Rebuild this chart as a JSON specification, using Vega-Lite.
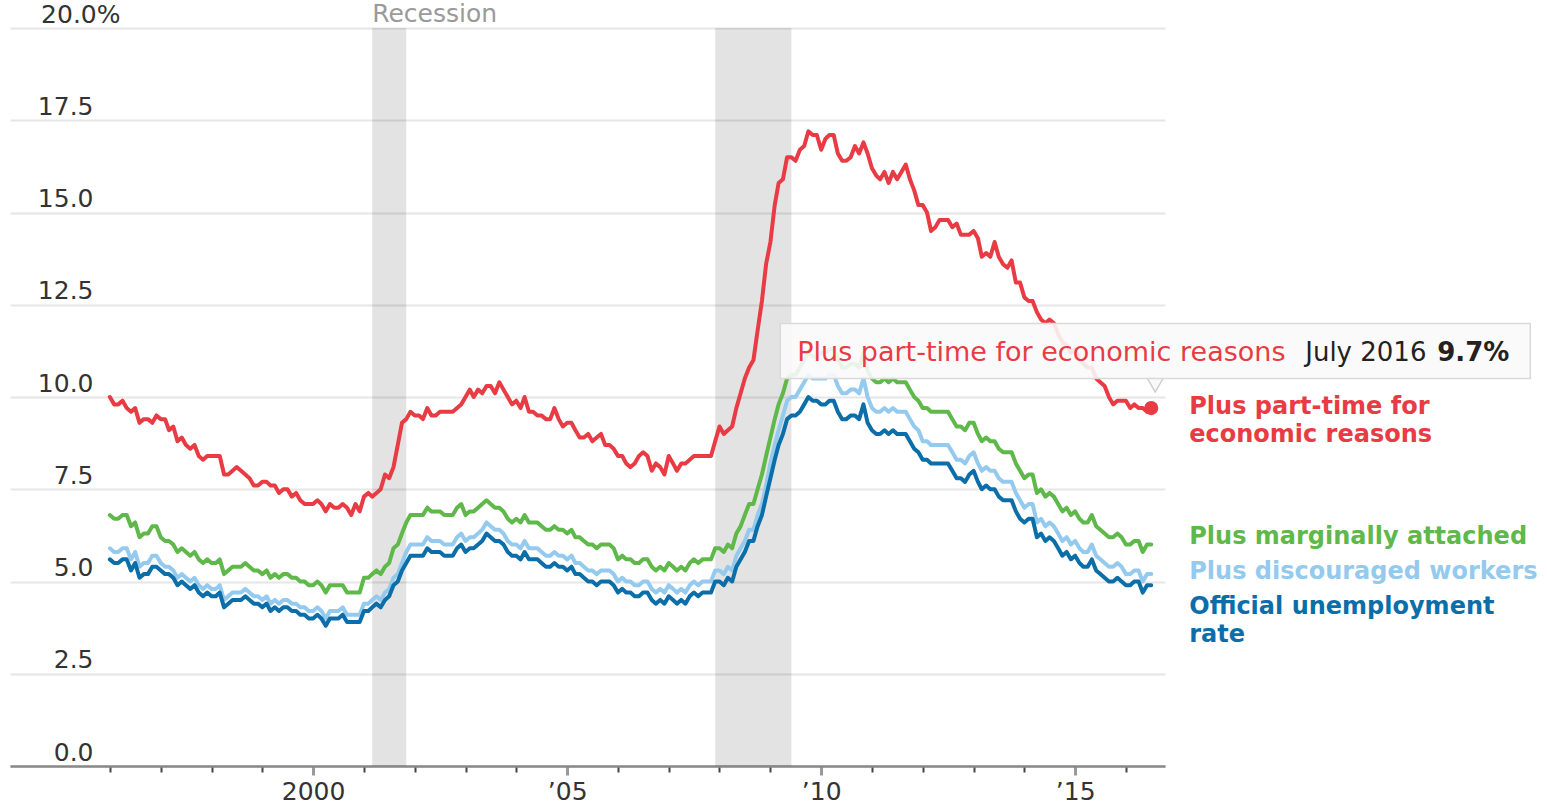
{
  "$schema": "https://vega.github.io/schema/vega-lite/v6.json",
  "width": 1155,
  "height": 738,
  "autosize": {"type": "none"},
  "padding": {"left": 10, "top": 28, "right": 382, "bottom": 38},
  "background": "white",
  "config": {"view": {"stroke": null}, "font": "DejaVu Sans", "text": {"font": "DejaVu Sans"}},
  "datasets": {
    "rates": [
      {"date":"1996-01","u3":5.6,"u4":5.9,"u5":6.8,"u6":10.0},
      {"date":"1996-02","u3":5.5,"u4":5.8,"u5":6.7,"u6":9.8},
      {"date":"1996-03","u3":5.5,"u4":5.8,"u5":6.7,"u6":9.8},
      {"date":"1996-04","u3":5.6,"u4":5.9,"u5":6.8,"u6":9.9},
      {"date":"1996-05","u3":5.6,"u4":5.9,"u5":6.8,"u6":9.7},
      {"date":"1996-06","u3":5.3,"u4":5.6,"u5":6.5,"u6":9.6},
      {"date":"1996-07","u3":5.5,"u4":5.8,"u5":6.6,"u6":9.7},
      {"date":"1996-08","u3":5.1,"u4":5.4,"u5":6.2,"u6":9.3},
      {"date":"1996-09","u3":5.2,"u4":5.5,"u5":6.3,"u6":9.4},
      {"date":"1996-10","u3":5.2,"u4":5.5,"u5":6.3,"u6":9.4},
      {"date":"1996-11","u3":5.4,"u4":5.7,"u5":6.5,"u6":9.3},
      {"date":"1996-12","u3":5.4,"u4":5.7,"u5":6.5,"u6":9.5},
      {"date":"1997-01","u3":5.3,"u4":5.5,"u5":6.2,"u6":9.4},
      {"date":"1997-02","u3":5.2,"u4":5.4,"u5":6.1,"u6":9.4},
      {"date":"1997-03","u3":5.2,"u4":5.4,"u5":6.1,"u6":9.1},
      {"date":"1997-04","u3":5.1,"u4":5.3,"u5":6.0,"u6":9.2},
      {"date":"1997-05","u3":4.9,"u4":5.1,"u5":5.8,"u6":8.8},
      {"date":"1997-06","u3":5.0,"u4":5.2,"u5":5.9,"u6":8.9},
      {"date":"1997-07","u3":4.9,"u4":5.1,"u5":5.8,"u6":8.7},
      {"date":"1997-08","u3":4.8,"u4":5.0,"u5":5.7,"u6":8.6},
      {"date":"1997-09","u3":4.9,"u4":5.1,"u5":5.8,"u6":8.7},
      {"date":"1997-10","u3":4.7,"u4":4.9,"u5":5.6,"u6":8.4},
      {"date":"1997-11","u3":4.6,"u4":4.8,"u5":5.5,"u6":8.3},
      {"date":"1997-12","u3":4.7,"u4":4.9,"u5":5.6,"u6":8.4},
      {"date":"1998-01","u3":4.6,"u4":4.8,"u5":5.5,"u6":8.4},
      {"date":"1998-02","u3":4.6,"u4":4.8,"u5":5.5,"u6":8.4},
      {"date":"1998-03","u3":4.7,"u4":4.9,"u5":5.6,"u6":8.4},
      {"date":"1998-04","u3":4.3,"u4":4.5,"u5":5.2,"u6":7.9},
      {"date":"1998-05","u3":4.4,"u4":4.6,"u5":5.3,"u6":7.9},
      {"date":"1998-06","u3":4.5,"u4":4.7,"u5":5.4,"u6":8.0},
      {"date":"1998-07","u3":4.5,"u4":4.7,"u5":5.4,"u6":8.1},
      {"date":"1998-08","u3":4.5,"u4":4.7,"u5":5.4,"u6":8.0},
      {"date":"1998-09","u3":4.6,"u4":4.8,"u5":5.5,"u6":7.9},
      {"date":"1998-10","u3":4.5,"u4":4.7,"u5":5.4,"u6":7.8},
      {"date":"1998-11","u3":4.4,"u4":4.6,"u5":5.3,"u6":7.6},
      {"date":"1998-12","u3":4.4,"u4":4.6,"u5":5.3,"u6":7.6},
      {"date":"1999-01","u3":4.3,"u4":4.5,"u5":5.2,"u6":7.7},
      {"date":"1999-02","u3":4.4,"u4":4.6,"u5":5.3,"u6":7.7},
      {"date":"1999-03","u3":4.2,"u4":4.4,"u5":5.1,"u6":7.6},
      {"date":"1999-04","u3":4.3,"u4":4.5,"u5":5.2,"u6":7.6},
      {"date":"1999-05","u3":4.2,"u4":4.4,"u5":5.1,"u6":7.4},
      {"date":"1999-06","u3":4.3,"u4":4.5,"u5":5.2,"u6":7.5},
      {"date":"1999-07","u3":4.3,"u4":4.5,"u5":5.2,"u6":7.5},
      {"date":"1999-08","u3":4.2,"u4":4.4,"u5":5.1,"u6":7.3},
      {"date":"1999-09","u3":4.2,"u4":4.4,"u5":5.1,"u6":7.4},
      {"date":"1999-10","u3":4.1,"u4":4.3,"u5":5.0,"u6":7.2},
      {"date":"1999-11","u3":4.1,"u4":4.3,"u5":5.0,"u6":7.1},
      {"date":"1999-12","u3":4.0,"u4":4.2,"u5":4.9,"u6":7.1},
      {"date":"2000-01","u3":4.0,"u4":4.2,"u5":4.9,"u6":7.1},
      {"date":"2000-02","u3":4.1,"u4":4.3,"u5":5.0,"u6":7.2},
      {"date":"2000-03","u3":4.0,"u4":4.2,"u5":4.9,"u6":7.1},
      {"date":"2000-04","u3":3.8,"u4":4.0,"u5":4.7,"u6":6.9},
      {"date":"2000-05","u3":4.0,"u4":4.2,"u5":4.9,"u6":7.1},
      {"date":"2000-06","u3":4.0,"u4":4.2,"u5":4.9,"u6":7.0},
      {"date":"2000-07","u3":4.0,"u4":4.2,"u5":4.9,"u6":7.0},
      {"date":"2000-08","u3":4.1,"u4":4.3,"u5":4.9,"u6":7.1},
      {"date":"2000-09","u3":3.9,"u4":4.1,"u5":4.7,"u6":7.0},
      {"date":"2000-10","u3":3.9,"u4":4.1,"u5":4.7,"u6":6.8},
      {"date":"2000-11","u3":3.9,"u4":4.1,"u5":4.7,"u6":7.1},
      {"date":"2000-12","u3":3.9,"u4":4.1,"u5":4.7,"u6":6.9},
      {"date":"2001-01","u3":4.2,"u4":4.4,"u5":5.1,"u6":7.3},
      {"date":"2001-02","u3":4.2,"u4":4.4,"u5":5.1,"u6":7.4},
      {"date":"2001-03","u3":4.3,"u4":4.5,"u5":5.2,"u6":7.3},
      {"date":"2001-04","u3":4.4,"u4":4.6,"u5":5.3,"u6":7.4},
      {"date":"2001-05","u3":4.3,"u4":4.5,"u5":5.2,"u6":7.5},
      {"date":"2001-06","u3":4.5,"u4":4.7,"u5":5.4,"u6":7.9},
      {"date":"2001-07","u3":4.6,"u4":4.8,"u5":5.5,"u6":7.8},
      {"date":"2001-08","u3":4.9,"u4":5.1,"u5":5.9,"u6":8.1},
      {"date":"2001-09","u3":5.0,"u4":5.2,"u5":6.0,"u6":8.7},
      {"date":"2001-10","u3":5.3,"u4":5.5,"u5":6.3,"u6":9.3},
      {"date":"2001-11","u3":5.5,"u4":5.8,"u5":6.6,"u6":9.4},
      {"date":"2001-12","u3":5.7,"u4":6.0,"u5":6.8,"u6":9.6},
      {"date":"2002-01","u3":5.7,"u4":6.0,"u5":6.8,"u6":9.5},
      {"date":"2002-02","u3":5.7,"u4":6.0,"u5":6.8,"u6":9.5},
      {"date":"2002-03","u3":5.7,"u4":6.0,"u5":6.8,"u6":9.4},
      {"date":"2002-04","u3":5.9,"u4":6.2,"u5":7.0,"u6":9.7},
      {"date":"2002-05","u3":5.8,"u4":6.1,"u5":6.9,"u6":9.5},
      {"date":"2002-06","u3":5.8,"u4":6.1,"u5":6.9,"u6":9.5},
      {"date":"2002-07","u3":5.8,"u4":6.1,"u5":6.9,"u6":9.6},
      {"date":"2002-08","u3":5.7,"u4":6.0,"u5":6.8,"u6":9.6},
      {"date":"2002-09","u3":5.7,"u4":6.0,"u5":6.8,"u6":9.6},
      {"date":"2002-10","u3":5.7,"u4":6.0,"u5":6.8,"u6":9.6},
      {"date":"2002-11","u3":5.9,"u4":6.2,"u5":7.0,"u6":9.7},
      {"date":"2002-12","u3":6.0,"u4":6.3,"u5":7.1,"u6":9.8},
      {"date":"2003-01","u3":5.8,"u4":6.1,"u5":6.8,"u6":10.0},
      {"date":"2003-02","u3":5.9,"u4":6.2,"u5":6.9,"u6":10.2},
      {"date":"2003-03","u3":5.9,"u4":6.2,"u5":6.9,"u6":10.0},
      {"date":"2003-04","u3":6.0,"u4":6.3,"u5":7.0,"u6":10.2},
      {"date":"2003-05","u3":6.1,"u4":6.4,"u5":7.1,"u6":10.1},
      {"date":"2003-06","u3":6.3,"u4":6.6,"u5":7.2,"u6":10.3},
      {"date":"2003-07","u3":6.2,"u4":6.5,"u5":7.1,"u6":10.3},
      {"date":"2003-08","u3":6.1,"u4":6.4,"u5":7.0,"u6":10.1},
      {"date":"2003-09","u3":6.1,"u4":6.4,"u5":7.0,"u6":10.4},
      {"date":"2003-10","u3":6.0,"u4":6.3,"u5":6.9,"u6":10.2},
      {"date":"2003-11","u3":5.8,"u4":6.1,"u5":6.7,"u6":10.0},
      {"date":"2003-12","u3":5.7,"u4":6.0,"u5":6.6,"u6":9.8},
      {"date":"2004-01","u3":5.7,"u4":6.0,"u5":6.7,"u6":9.9},
      {"date":"2004-02","u3":5.6,"u4":5.9,"u5":6.6,"u6":9.7},
      {"date":"2004-03","u3":5.8,"u4":6.1,"u5":6.8,"u6":10.0},
      {"date":"2004-04","u3":5.6,"u4":5.9,"u5":6.6,"u6":9.6},
      {"date":"2004-05","u3":5.6,"u4":5.9,"u5":6.6,"u6":9.6},
      {"date":"2004-06","u3":5.6,"u4":5.9,"u5":6.6,"u6":9.5},
      {"date":"2004-07","u3":5.5,"u4":5.8,"u5":6.5,"u6":9.5},
      {"date":"2004-08","u3":5.4,"u4":5.7,"u5":6.4,"u6":9.4},
      {"date":"2004-09","u3":5.4,"u4":5.7,"u5":6.4,"u6":9.4},
      {"date":"2004-10","u3":5.5,"u4":5.8,"u5":6.5,"u6":9.7},
      {"date":"2004-11","u3":5.4,"u4":5.7,"u5":6.4,"u6":9.4},
      {"date":"2004-12","u3":5.4,"u4":5.7,"u5":6.4,"u6":9.2},
      {"date":"2005-01","u3":5.3,"u4":5.6,"u5":6.3,"u6":9.3},
      {"date":"2005-02","u3":5.4,"u4":5.7,"u5":6.4,"u6":9.3},
      {"date":"2005-03","u3":5.2,"u4":5.5,"u5":6.2,"u6":9.1},
      {"date":"2005-04","u3":5.2,"u4":5.5,"u5":6.2,"u6":8.9},
      {"date":"2005-05","u3":5.1,"u4":5.4,"u5":6.1,"u6":8.9},
      {"date":"2005-06","u3":5.0,"u4":5.3,"u5":6.0,"u6":9.0},
      {"date":"2005-07","u3":5.0,"u4":5.3,"u5":6.0,"u6":8.8},
      {"date":"2005-08","u3":4.9,"u4":5.2,"u5":5.9,"u6":8.9},
      {"date":"2005-09","u3":5.0,"u4":5.3,"u5":6.0,"u6":9.0},
      {"date":"2005-10","u3":5.0,"u4":5.3,"u5":6.0,"u6":8.7},
      {"date":"2005-11","u3":5.0,"u4":5.3,"u5":6.0,"u6":8.7},
      {"date":"2005-12","u3":4.9,"u4":5.2,"u5":5.9,"u6":8.6},
      {"date":"2006-01","u3":4.7,"u4":5.0,"u5":5.6,"u6":8.4},
      {"date":"2006-02","u3":4.8,"u4":5.1,"u5":5.7,"u6":8.4},
      {"date":"2006-03","u3":4.7,"u4":5.0,"u5":5.6,"u6":8.2},
      {"date":"2006-04","u3":4.7,"u4":5.0,"u5":5.6,"u6":8.1},
      {"date":"2006-05","u3":4.6,"u4":4.9,"u5":5.5,"u6":8.2},
      {"date":"2006-06","u3":4.6,"u4":4.9,"u5":5.5,"u6":8.4},
      {"date":"2006-07","u3":4.7,"u4":5.0,"u5":5.6,"u6":8.5},
      {"date":"2006-08","u3":4.7,"u4":5.0,"u5":5.6,"u6":8.4},
      {"date":"2006-09","u3":4.5,"u4":4.8,"u5":5.4,"u6":8.0},
      {"date":"2006-10","u3":4.4,"u4":4.7,"u5":5.3,"u6":8.2},
      {"date":"2006-11","u3":4.5,"u4":4.8,"u5":5.4,"u6":8.1},
      {"date":"2006-12","u3":4.4,"u4":4.7,"u5":5.3,"u6":7.9},
      {"date":"2007-01","u3":4.6,"u4":4.9,"u5":5.5,"u6":8.4},
      {"date":"2007-02","u3":4.5,"u4":4.8,"u5":5.4,"u6":8.2},
      {"date":"2007-03","u3":4.4,"u4":4.7,"u5":5.3,"u6":8.0},
      {"date":"2007-04","u3":4.5,"u4":4.8,"u5":5.4,"u6":8.2},
      {"date":"2007-05","u3":4.4,"u4":4.7,"u5":5.3,"u6":8.2},
      {"date":"2007-06","u3":4.6,"u4":4.9,"u5":5.5,"u6":8.3},
      {"date":"2007-07","u3":4.7,"u4":5.0,"u5":5.6,"u6":8.4},
      {"date":"2007-08","u3":4.6,"u4":4.9,"u5":5.5,"u6":8.4},
      {"date":"2007-09","u3":4.7,"u4":5.0,"u5":5.6,"u6":8.4},
      {"date":"2007-10","u3":4.7,"u4":5.0,"u5":5.6,"u6":8.4},
      {"date":"2007-11","u3":4.7,"u4":5.0,"u5":5.6,"u6":8.4},
      {"date":"2007-12","u3":5.0,"u4":5.3,"u5":5.9,"u6":8.8},
      {"date":"2008-01","u3":5.0,"u4":5.3,"u5":5.9,"u6":9.2},
      {"date":"2008-02","u3":4.9,"u4":5.2,"u5":5.8,"u6":9.0},
      {"date":"2008-03","u3":5.1,"u4":5.4,"u5":6.0,"u6":9.1},
      {"date":"2008-04","u3":5.0,"u4":5.3,"u5":5.9,"u6":9.2},
      {"date":"2008-05","u3":5.4,"u4":5.7,"u5":6.3,"u6":9.7},
      {"date":"2008-06","u3":5.6,"u4":5.9,"u5":6.5,"u6":10.1},
      {"date":"2008-07","u3":5.8,"u4":6.1,"u5":6.8,"u6":10.5},
      {"date":"2008-08","u3":6.1,"u4":6.4,"u5":7.1,"u6":10.8},
      {"date":"2008-09","u3":6.1,"u4":6.4,"u5":7.1,"u6":11.0},
      {"date":"2008-10","u3":6.5,"u4":6.8,"u5":7.5,"u6":11.8},
      {"date":"2008-11","u3":6.8,"u4":7.1,"u5":7.9,"u6":12.6},
      {"date":"2008-12","u3":7.3,"u4":7.6,"u5":8.4,"u6":13.6},
      {"date":"2009-01","u3":7.8,"u4":8.2,"u5":8.9,"u6":14.2},
      {"date":"2009-02","u3":8.3,"u4":8.7,"u5":9.4,"u6":15.2},
      {"date":"2009-03","u3":8.7,"u4":9.1,"u5":9.8,"u6":15.8},
      {"date":"2009-04","u3":9.0,"u4":9.5,"u5":10.1,"u6":15.9},
      {"date":"2009-05","u3":9.4,"u4":9.9,"u5":10.5,"u6":16.5},
      {"date":"2009-06","u3":9.5,"u4":10.0,"u5":10.6,"u6":16.5},
      {"date":"2009-07","u3":9.5,"u4":10.0,"u5":10.6,"u6":16.4},
      {"date":"2009-08","u3":9.6,"u4":10.2,"u5":10.8,"u6":16.7},
      {"date":"2009-09","u3":9.8,"u4":10.4,"u5":11.0,"u6":16.8},
      {"date":"2009-10","u3":10.0,"u4":10.6,"u5":11.2,"u6":17.2},
      {"date":"2009-11","u3":9.9,"u4":10.5,"u5":11.1,"u6":17.1},
      {"date":"2009-12","u3":9.9,"u4":10.5,"u5":11.1,"u6":17.1},
      {"date":"2010-01","u3":9.8,"u4":10.5,"u5":11.2,"u6":16.7},
      {"date":"2010-02","u3":9.8,"u4":10.5,"u5":11.2,"u6":17.0},
      {"date":"2010-03","u3":9.9,"u4":10.6,"u5":11.3,"u6":17.1},
      {"date":"2010-04","u3":9.9,"u4":10.6,"u5":11.3,"u6":17.1},
      {"date":"2010-05","u3":9.6,"u4":10.3,"u5":11.0,"u6":16.6},
      {"date":"2010-06","u3":9.4,"u4":10.1,"u5":10.8,"u6":16.4},
      {"date":"2010-07","u3":9.4,"u4":10.1,"u5":10.8,"u6":16.4},
      {"date":"2010-08","u3":9.5,"u4":10.2,"u5":10.9,"u6":16.5},
      {"date":"2010-09","u3":9.5,"u4":10.2,"u5":10.9,"u6":16.8},
      {"date":"2010-10","u3":9.4,"u4":10.1,"u5":10.8,"u6":16.6},
      {"date":"2010-11","u3":9.8,"u4":10.5,"u5":11.2,"u6":16.9},
      {"date":"2010-12","u3":9.3,"u4":10.0,"u5":10.7,"u6":16.6},
      {"date":"2011-01","u3":9.1,"u4":9.7,"u5":10.5,"u6":16.2},
      {"date":"2011-02","u3":9.0,"u4":9.6,"u5":10.4,"u6":16.0},
      {"date":"2011-03","u3":9.0,"u4":9.6,"u5":10.4,"u6":15.9},
      {"date":"2011-04","u3":9.1,"u4":9.7,"u5":10.5,"u6":16.1},
      {"date":"2011-05","u3":9.0,"u4":9.6,"u5":10.4,"u6":15.8},
      {"date":"2011-06","u3":9.1,"u4":9.7,"u5":10.5,"u6":16.1},
      {"date":"2011-07","u3":9.0,"u4":9.6,"u5":10.4,"u6":15.9},
      {"date":"2011-08","u3":9.0,"u4":9.6,"u5":10.4,"u6":16.1},
      {"date":"2011-09","u3":9.0,"u4":9.6,"u5":10.4,"u6":16.3},
      {"date":"2011-10","u3":8.8,"u4":9.4,"u5":10.2,"u6":15.9},
      {"date":"2011-11","u3":8.6,"u4":9.2,"u5":10.0,"u6":15.6},
      {"date":"2011-12","u3":8.5,"u4":9.1,"u5":9.9,"u6":15.2},
      {"date":"2012-01","u3":8.3,"u4":8.8,"u5":9.7,"u6":15.2},
      {"date":"2012-02","u3":8.3,"u4":8.8,"u5":9.7,"u6":15.0},
      {"date":"2012-03","u3":8.2,"u4":8.7,"u5":9.6,"u6":14.5},
      {"date":"2012-04","u3":8.2,"u4":8.7,"u5":9.6,"u6":14.6},
      {"date":"2012-05","u3":8.2,"u4":8.7,"u5":9.6,"u6":14.8},
      {"date":"2012-06","u3":8.2,"u4":8.7,"u5":9.6,"u6":14.8},
      {"date":"2012-07","u3":8.2,"u4":8.7,"u5":9.6,"u6":14.8},
      {"date":"2012-08","u3":8.0,"u4":8.5,"u5":9.4,"u6":14.6},
      {"date":"2012-09","u3":7.8,"u4":8.3,"u5":9.2,"u6":14.7},
      {"date":"2012-10","u3":7.8,"u4":8.3,"u5":9.2,"u6":14.4},
      {"date":"2012-11","u3":7.7,"u4":8.2,"u5":9.1,"u6":14.4},
      {"date":"2012-12","u3":7.9,"u4":8.4,"u5":9.3,"u6":14.4},
      {"date":"2013-01","u3":8.0,"u4":8.5,"u5":9.3,"u6":14.5},
      {"date":"2013-02","u3":7.7,"u4":8.2,"u5":9.0,"u6":14.3},
      {"date":"2013-03","u3":7.5,"u4":8.0,"u5":8.8,"u6":13.8},
      {"date":"2013-04","u3":7.6,"u4":8.1,"u5":8.9,"u6":13.9},
      {"date":"2013-05","u3":7.5,"u4":8.0,"u5":8.8,"u6":13.8},
      {"date":"2013-06","u3":7.5,"u4":8.0,"u5":8.8,"u6":14.2},
      {"date":"2013-07","u3":7.3,"u4":7.8,"u5":8.6,"u6":13.8},
      {"date":"2013-08","u3":7.2,"u4":7.7,"u5":8.5,"u6":13.6},
      {"date":"2013-09","u3":7.2,"u4":7.7,"u5":8.5,"u6":13.5},
      {"date":"2013-10","u3":7.2,"u4":7.7,"u5":8.5,"u6":13.7},
      {"date":"2013-11","u3":6.9,"u4":7.4,"u5":8.2,"u6":13.1},
      {"date":"2013-12","u3":6.7,"u4":7.2,"u5":8.0,"u6":13.1},
      {"date":"2014-01","u3":6.6,"u4":7.0,"u5":7.8,"u6":12.7},
      {"date":"2014-02","u3":6.7,"u4":7.1,"u5":7.9,"u6":12.6},
      {"date":"2014-03","u3":6.7,"u4":7.1,"u5":7.9,"u6":12.6},
      {"date":"2014-04","u3":6.2,"u4":6.6,"u5":7.4,"u6":12.3},
      {"date":"2014-05","u3":6.3,"u4":6.7,"u5":7.5,"u6":12.1},
      {"date":"2014-06","u3":6.1,"u4":6.5,"u5":7.3,"u6":12.0},
      {"date":"2014-07","u3":6.2,"u4":6.6,"u5":7.4,"u6":12.1},
      {"date":"2014-08","u3":6.1,"u4":6.5,"u5":7.3,"u6":12.0},
      {"date":"2014-09","u3":5.9,"u4":6.3,"u5":7.1,"u6":11.7},
      {"date":"2014-10","u3":5.7,"u4":6.1,"u5":6.9,"u6":11.5},
      {"date":"2014-11","u3":5.8,"u4":6.2,"u5":7.0,"u6":11.4},
      {"date":"2014-12","u3":5.6,"u4":6.0,"u5":6.8,"u6":11.2},
      {"date":"2015-01","u3":5.7,"u4":6.1,"u5":6.9,"u6":11.3},
      {"date":"2015-02","u3":5.5,"u4":5.9,"u5":6.7,"u6":11.0},
      {"date":"2015-03","u3":5.4,"u4":5.8,"u5":6.6,"u6":10.9},
      {"date":"2015-04","u3":5.4,"u4":5.8,"u5":6.6,"u6":10.8},
      {"date":"2015-05","u3":5.6,"u4":6.0,"u5":6.8,"u6":10.8},
      {"date":"2015-06","u3":5.3,"u4":5.7,"u5":6.5,"u6":10.5},
      {"date":"2015-07","u3":5.2,"u4":5.6,"u5":6.4,"u6":10.4},
      {"date":"2015-08","u3":5.1,"u4":5.5,"u5":6.3,"u6":10.3},
      {"date":"2015-09","u3":5.0,"u4":5.4,"u5":6.2,"u6":10.0},
      {"date":"2015-10","u3":5.0,"u4":5.4,"u5":6.2,"u6":9.8},
      {"date":"2015-11","u3":5.1,"u4":5.5,"u5":6.3,"u6":9.9},
      {"date":"2015-12","u3":5.0,"u4":5.4,"u5":6.2,"u6":9.9},
      {"date":"2016-01","u3":4.9,"u4":5.2,"u5":6.0,"u6":9.9},
      {"date":"2016-02","u3":4.9,"u4":5.2,"u5":6.0,"u6":9.7},
      {"date":"2016-03","u3":5.0,"u4":5.3,"u5":6.1,"u6":9.8},
      {"date":"2016-04","u3":5.0,"u4":5.3,"u5":6.1,"u6":9.7},
      {"date":"2016-05","u3":4.7,"u4":5.0,"u5":5.8,"u6":9.7},
      {"date":"2016-06","u3":4.9,"u4":5.2,"u5":6.0,"u6":9.6},
      {"date":"2016-07","u3":4.9,"u4":5.2,"u5":6.0,"u6":9.7}
    ],
    "recessions": [
      {"start": "2001-03", "end": "2001-11", "label": "Recession"},
      {"start": "2007-12", "end": "2009-06", "label": ""}
    ],
    "endLabels": [
      {"series": "u6", "date": "2016-07", "rate": 9.7, "label": ["Plus part-time for", "economic reasons"]},
      {"series": "u5", "date": "2016-07", "rate": 6.0, "label": "Plus marginally attached"},
      {"series": "u4", "date": "2016-07", "rate": 5.2, "label": "Plus discouraged workers"},
      {"series": "u3", "date": "2016-07", "rate": 4.9, "label": ["Official unemployment", "rate"]}
    ],
    "latest": [
      {"series": "Plus part-time for economic reasons", "date": "2016-07", "month": "July 2016", "rate": 9.7}
    ]
  },
  "layer": [
    {
      "data": {"name": "recessions"},
      "mark": {"type": "rect", "fill": "#000000", "opacity": 0.11},
      "encoding": {
        "x": {"field": "start", "type": "temporal", "title": null},
        "x2": {"field": "end"}
      }
    },
    {
      "data": {"name": "recessions"},
      "transform": [{"filter": "datum.label !== ''"}],
      "mark": {"type": "text", "align": "left", "baseline": "middle", "dy": -14, "fontSize": 25, "color": "#9a9a9a"},
      "encoding": {
        "x": {"field": "start", "type": "temporal", "title": null},
        "y": {"datum": 20, "type": "quantitative", "title": null},
        "text": {"field": "label"}
      }
    },
    {
      "data": {"name": "rates"},
      "transform": [{"fold": ["u6", "u5", "u4", "u3"], "as": ["series", "rate"]}],
      "mark": {"type": "line", "strokeWidth": 4, "strokeJoin": "round", "strokeCap": "round"},
      "encoding": {
        "x": {
          "field": "date", "type": "temporal", "title": null,
          "scale": {"type": "utc", "domain": [{"year": 1994, "month": 1, "date": 13, "utc": true}, {"year": 2016, "month": 10, "date": 8, "utc": true}]},
          "axis": {
            "grid": false,
            "values": [
              {"year": 1996, "utc": true}, {"year": 1997, "utc": true}, {"year": 1998, "utc": true}, {"year": 1999, "utc": true},
              {"year": 2000, "utc": true}, {"year": 2001, "utc": true}, {"year": 2002, "utc": true}, {"year": 2003, "utc": true},
              {"year": 2004, "utc": true}, {"year": 2005, "utc": true}, {"year": 2006, "utc": true}, {"year": 2007, "utc": true},
              {"year": 2008, "utc": true}, {"year": 2009, "utc": true}, {"year": 2010, "utc": true}, {"year": 2011, "utc": true},
              {"year": 2012, "utc": true}, {"year": 2013, "utc": true}, {"year": 2014, "utc": true}, {"year": 2015, "utc": true},
              {"year": 2016, "utc": true}
            ],
            "labelExpr": "utcyear(datum.value) % 5 !== 0 ? '' : (utcyear(datum.value) === 2000 ? '2000' : '\u2019' + utcFormat(datum.value, '%y'))",
            "labelFontSize": 25,
            "labelColor": "#333333",
            "labelPadding": 4,
            "labelFlush": false,
            "labelOverlap": false,
            "domainColor": "#888888",
            "domainWidth": 2.5,
            "tickColor": {"condition": {"test": "utcyear(datum.value) % 5 === 0", "value": "#999999"}, "value": "#444444"},
            "tickWidth": {"condition": {"test": "utcyear(datum.value) % 5 === 0", "value": 3}, "value": 2},
            "tickSize": {"condition": {"test": "utcyear(datum.value) % 5 === 0", "value": 9}, "value": 6}
          }
        },
        "y": {
          "field": "rate", "type": "quantitative", "title": null,
          "scale": {"domain": [0, 20], "nice": false, "zero": true},
          "axis": {
            "values": [0, 2.5, 5, 7.5, 10, 12.5, 15, 17.5, 20],
            "grid": true,
            "gridColor": "#e6e6e6",
            "gridWidth": 2,
            "domain": false,
            "ticks": false,
            "labelPadding": {"condition": {"test": "datum.value === 20", "value": -110}, "value": -83},
            "labelAlign": "right",
            "labelBaseline": "alphabetic",
            "labelOffset": -6,
            "labelFontSize": 25,
            "labelColor": "#333333",
            "labelFlush": false,
            "labelOverlap": false,
            "labelExpr": "datum.value === 20 ? '20.0%' : format(datum.value, '.1f')"
          }
        },
        "color": {
          "field": "series", "type": "nominal",
          "scale": {"domain": ["u6", "u5", "u4", "u3"], "range": ["#e93b44", "#5fb84a", "#95caef", "#0b6ea9"]},
          "legend": null
        }
      }
    },
    {
      "data": {"name": "latest"},
      "mark": {"type": "point", "filled": true, "size": 200, "opacity": 1, "color": "#e93b44"},
      "encoding": {
        "x": {"field": "date", "type": "temporal", "title": null},
        "y": {"field": "rate", "type": "quantitative", "title": null}
      }
    },
    {
      "data": {"name": "endLabels"},
      "transform": [{"filter": "datum.series === 'u6'"}],
      "mark": {"type": "text", "align": "left", "baseline": "top", "dx": 38, "dy": -13, "fontSize": 24, "fontWeight": "bold", "lineHeight": 28},
      "encoding": {
        "x": {"field": "date", "type": "temporal", "title": null},
        "y": {"field": "rate", "type": "quantitative", "title": null},
        "text": {"field": "label"},
        "color": {"field": "series", "type": "nominal", "legend": null}
      }
    },
    {
      "data": {"name": "endLabels"},
      "transform": [{"filter": "datum.series === 'u5'"}],
      "mark": {"type": "text", "align": "left", "baseline": "top", "dx": 38, "dy": -20, "fontSize": 24, "fontWeight": "bold", "lineHeight": 28},
      "encoding": {
        "x": {"field": "date", "type": "temporal", "title": null},
        "y": {"field": "rate", "type": "quantitative", "title": null},
        "text": {"field": "label"},
        "color": {"field": "series", "type": "nominal", "legend": null}
      }
    },
    {
      "data": {"name": "endLabels"},
      "transform": [{"filter": "datum.series === 'u4'"}],
      "mark": {"type": "text", "align": "left", "baseline": "top", "dx": 38, "dy": -14, "fontSize": 24, "fontWeight": "bold", "lineHeight": 28},
      "encoding": {
        "x": {"field": "date", "type": "temporal", "title": null},
        "y": {"field": "rate", "type": "quantitative", "title": null},
        "text": {"field": "label"},
        "color": {"field": "series", "type": "nominal", "legend": null}
      }
    },
    {
      "data": {"name": "endLabels"},
      "transform": [{"filter": "datum.series === 'u3'"}],
      "mark": {"type": "text", "align": "left", "baseline": "top", "dx": 38, "dy": 10, "fontSize": 24, "fontWeight": "bold", "lineHeight": 28},
      "encoding": {
        "x": {"field": "date", "type": "temporal", "title": null},
        "y": {"field": "rate", "type": "quantitative", "title": null},
        "text": {"field": "label"},
        "color": {"field": "series", "type": "nominal", "legend": null}
      }
    },
    {
      "data": {"name": "latest"},
      "mark": {"type": "point", "shape": "triangle-down", "filled": true, "size": 260, "xOffset": 4, "yOffset": -23, "fill": "#f9f9f9", "stroke": "#cfcfcf", "strokeWidth": 1.5, "opacity": 1},
      "encoding": {
        "x": {"field": "date", "type": "temporal", "title": null},
        "y": {"field": "rate", "type": "quantitative", "title": null}
      }
    },
    {
      "data": {"name": "latest"},
      "mark": {"type": "rect", "width": 750, "height": 55, "xOffset": 4, "yOffset": -57, "fill": "#f9f9f9", "fillOpacity": 0.9, "stroke": "#d9d9d9", "strokeWidth": 1.5},
      "encoding": {
        "x": {"field": "date", "type": "temporal", "title": null},
        "y": {"field": "rate", "type": "quantitative", "title": null}
      }
    },
    {
      "data": {"name": "latest"},
      "mark": {"type": "text", "align": "left", "baseline": "middle", "dx": -354, "dy": -55, "fontSize": 27, "color": "#e93b44"},
      "encoding": {
        "x": {"field": "date", "type": "temporal", "title": null},
        "y": {"field": "rate", "type": "quantitative", "title": null},
        "text": {"field": "series"}
      }
    },
    {
      "data": {"name": "latest"},
      "mark": {"type": "text", "align": "left", "baseline": "middle", "dx": 154, "dy": -55, "fontSize": 26, "color": "#222222"},
      "encoding": {
        "x": {"field": "date", "type": "temporal", "title": null},
        "y": {"field": "rate", "type": "quantitative", "title": null},
        "text": {"field": "month"}
      }
    },
    {
      "data": {"name": "latest"},
      "transform": [{"calculate": "format(datum.rate, '.1f') + '%'", "as": "reading"}],
      "mark": {"type": "text", "align": "left", "baseline": "middle", "dx": 286, "dy": -55, "fontSize": 26, "fontWeight": "bold", "color": "#222222"},
      "encoding": {
        "x": {"field": "date", "type": "temporal", "title": null},
        "y": {"field": "rate", "type": "quantitative", "title": null},
        "text": {"field": "reading"}
      }
    }
  ]
}
